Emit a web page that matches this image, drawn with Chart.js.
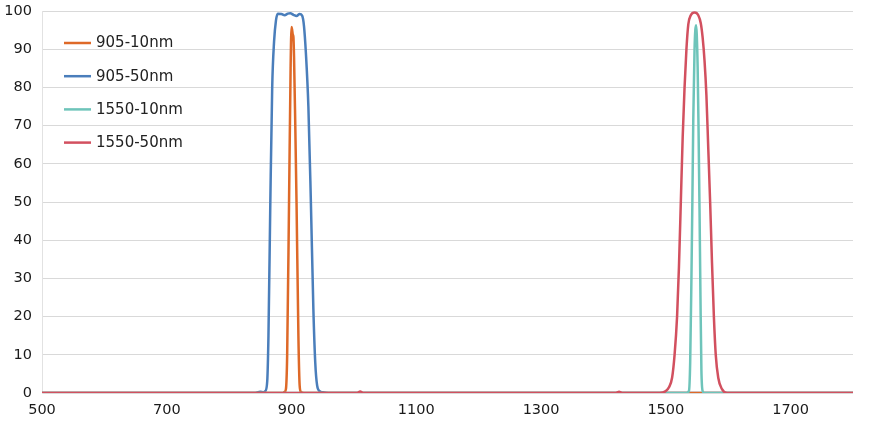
<!DOCTYPE html>
<html>
<head>
<meta charset="utf-8">
<script src="https://cdn.jsdelivr.net/npm/chart.js@4.4.0/dist/chart.umd.min.js"></script>
<style>
html,body{margin:0;padding:0;background:#fff;}
#wrap{width:869px;height:440px;position:relative;}
</style>
</head>
<body>
<div id="wrap"><canvas id="c"></canvas></div>
<script>
const seriesNames = ["905-10nm", "905-50nm", "1550-10nm", "1550-50nm"];
const seriesColors = ["#DE6928", "#4A7EBB", "#6EC4BA", "#D2505F"];
const xTickValues = [500, 700, 900, 1100, 1300, 1500, 1700];
const yTickValues = [0, 10, 20, 30, 40, 50, 60, 70, 80, 90, 100];

const wl905_10 = [500, 886, 889, 891, 893, 896, 898.5, 900, 901, 902, 903, 904, 906, 908, 911, 913, 915, 920, 1800];
const t905_10  = [0,   0,   0.3, 1,   10,  50,  85,    95.8, 95,  93.8, 93.2, 88,  70,  50,  15,  2,   0.3, 0,   0];

const wl905_50 = [500, 840, 850, 855, 858, 861, 863, 866, 869, 872, 875, 878, 884, 889, 894, 898, 903, 908, 913, 917, 920, 923, 927, 931, 935, 938, 941, 945, 950, 960, 1800];
const t905_50  = [0,   0,   0.3, 0.2, 0.5, 3,   15,  50,  80,  92,  97.5, 99.3, 99.2, 98.9, 99.3, 99.4, 99.0, 98.7, 99.2, 98.8, 96, 89,  75,  50,  22,  8,   2,   0.5, 0.2, 0,   0];

const wl1550_10 = [500, 1533, 1537, 1539, 1541, 1542.5, 1544, 1546, 1548.4, 1549.5, 1551, 1552.5, 1554, 1555.5, 1557, 1559, 1562, 1800];
const t1550_10  = [0,   0,    0.5,  8,    30,   50,     72,   90,   96.3,   94,     85,   68,     48,   25,     6,    0.5,  0,    0];

const wl1550_50 = [500, 1005, 1010, 1015, 1420, 1425, 1430, 1490, 1500, 1505, 1510, 1514, 1518, 1521, 1524, 1527, 1530, 1533, 1536, 1540, 1546, 1552, 1556, 1559, 1562, 1565, 1568, 1571, 1574, 1577, 1580, 1584, 1590, 1598, 1800];
const t1550_50  = [0,   0,    0.4,  0,    0,    0.3,  0,    0,    0.5,  1.5,  4,    10,   20,   33,   50,   67,   80,   90,   96.5, 98.9, 99.6, 98.9, 96.8, 93,  87,  78,   64,   50,   34,   20,   10,   4,    1,    0,    0];

const xs = [wl905_10, wl905_50, wl1550_10, wl1550_50];
const ys = [t905_10, t905_50, t1550_10, t1550_50];
const drawOrder = [2, 3, 1, 0];

const FONT = "'DejaVu Sans', 'Noto Sans', sans-serif";

const datasets = seriesNames.map((name, i) => ({
  label: name,
  data: xs[i].map((x, k) => ({x: x, y: ys[i][k]})),
  borderColor: seriesColors[i],
  backgroundColor: seriesColors[i],
  borderWidth: 2.5,
  pointRadius: 0,
  fill: false,
  cubicInterpolationMode: 'monotone',
  order: drawOrder[i]
}));

const legendPlugin = {
  id: 'insideLegend',
  afterDatasetsDraw(chart) {
    const ctx = chart.ctx;
    const a = chart.chartArea;
    ctx.save();
    ctx.font = "15px " + FONT;
    ctx.textBaseline = 'middle';
    ctx.textAlign = 'left';
    seriesNames.forEach((name, i) => {
      const y = a.top + 32 + i * 33.2;
      const x0 = a.left + 22;
      ctx.strokeStyle = seriesColors[i];
      ctx.lineWidth = 2.5;
      ctx.beginPath();
      ctx.moveTo(x0, y);
      ctx.lineTo(x0 + 27, y);
      ctx.stroke();
      ctx.fillStyle = '#222';
      ctx.fillText(name, x0 + 32, y + 0.5);
    });
    ctx.restore();
  }
};

new Chart(document.getElementById('c'), {
  type: 'line',
  data: { datasets: datasets },
  options: {
    responsive: true,
    maintainAspectRatio: false,
    animation: false,
    layout: { padding: { top: 0, right: 16, left: 0, bottom: 0 } },
    plugins: { legend: { display: false }, tooltip: { enabled: false } },
    scales: {
      x: {
        type: 'linear',
        min: 500,
        max: 1800,
        afterBuildTicks(scale) { scale.ticks = xTickValues.map(v => ({value: v})); },
        afterFit(scale) { scale.height = 47; },
        grid: { display: false, drawTicks: false },
        border: { display: false },
        ticks: { color: '#1a1a1a', font: { size: 14.5, family: FONT }, padding: 9, maxRotation: 0, autoSkip: false,
                 callback: (v) => String(v) }
      },
      y: {
        min: 0,
        max: 100,
        afterBuildTicks(scale) { scale.ticks = yTickValues.map(v => ({value: v})); },
        afterFit(scale) { scale.width = 42; scale.paddingTop = 11; scale.paddingBottom = 0; },
        grid: { color: '#d9d9d9', lineWidth: 1, drawTicks: false },
        border: { display: true, color: '#e2e2e2' },
        ticks: { color: '#1a1a1a', font: { size: 14.5, family: FONT }, padding: 10, callback: (v) => String(v) }
      }
    }
  },
  plugins: [legendPlugin]
});
</script>
</body>
</html>
